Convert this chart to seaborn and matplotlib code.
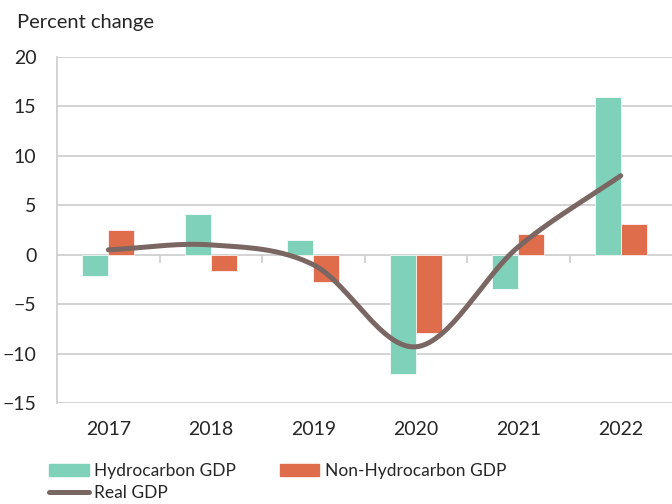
import numpy as np
import pandas as pd
import matplotlib
matplotlib.use("Agg")
import matplotlib.pyplot as plt
from matplotlib.patches import Patch
from matplotlib.lines import Line2D
import seaborn as sns

years = ["2017", "2018", "2019", "2020", "2021", "2022"]
hydro = [-2.1, 4.1, 1.5, -12.0, -3.5, 16.0]
non_hydro = [2.5, -1.6, -2.7, -7.9, 2.1, 3.1]
real_gdp = [0.5, 1.0, -1.0, -9.3, 0.8, 8.0]

green = "#7fd1b9"
orange = "#df6c4a"
brown = "#7a6662"
grid = "#d0d0d0"

sns.set_style("white")
plt.rcParams["font.family"] = ["Lato", "DejaVu Sans"]

df = pd.DataFrame({
    "year": years * 2,
    "series": ["Hydrocarbon GDP"] * 6 + ["Non-Hydrocarbon GDP"] * 6,
    "value": hydro + non_hydro,
})

fig = plt.figure(figsize=(6.72, 5.04), dpi=100)
ax = fig.add_axes([0.085, 0.2, 0.915, 0.687])

sns.barplot(data=df, x="year", y="value", hue="series", order=years,
            palette=[green, orange], saturation=1, width=0.51, ax=ax, legend=False,
            edgecolor="white", linewidth=0.5, zorder=3)


# smooth line through the points (catmull-rom, like excel smoothing)
def smooth(xs, ys, n=30):
    xs = np.asarray(xs, float)
    ys = np.asarray(ys, float)
    px = np.concatenate([[2 * xs[0] - xs[1]], xs, [2 * xs[-1] - xs[-2]]])
    py = np.concatenate([[2 * ys[0] - ys[1]], ys, [2 * ys[-1] - ys[-2]]])
    ox, oy = [], []
    for i in range(1, len(px) - 2):
        t = np.linspace(0, 1, n, endpoint=False)
        for p, out in ((px, ox), (py, oy)):
            p0, p1, p2, p3 = p[i - 1], p[i], p[i + 1], p[i + 2]
            out.extend(0.5 * (2 * p1 + (-p0 + p2) * t
                              + (2 * p0 - 5 * p1 + 4 * p2 - p3) * t ** 2
                              + (-p0 + 3 * p1 - 3 * p2 + p3) * t ** 3))
    ox.append(xs[-1])
    oy.append(ys[-1])
    return np.array(ox), np.array(oy)


sx, sy = smooth(range(len(years)), real_gdp)
ax.plot(sx, sy, color=brown, lw=3.6, solid_capstyle="round", zorder=4)

ax.set_xlim(-0.5, 5.5)
ax.set_ylim(-15, 20)
ax.set_yticks(range(-15, 21, 5))
ax.yaxis.grid(True, color=grid, lw=1.3, zorder=0)
ax.set_axisbelow(True)
for s in ["top", "right", "bottom"]:
    ax.spines[s].set_visible(False)
ax.spines["left"].set_color(grid)
ax.spines["left"].set_linewidth(1.3)
ax.tick_params(axis="y", length=6, width=1.3, color=grid, labelsize=14, pad=9)
ax.tick_params(axis="x", length=0, labelsize=14, pad=13)
ax.set_xlabel("")
ax.set_ylabel("")

# tick marks on the zero line between categories
sec = ax.secondary_xaxis(15 / 35)
sec.set_xticks(np.arange(0.5, 5.5, 1.0))
sec.set_xticklabels([])
sec.tick_params(length=6, width=1.3, color=grid)
sec.spines["bottom"].set_visible(False)

fig.text(0.025, 0.955, "Percent change", fontsize=14.5, va="center")

handles = [Patch(color=green, label="Hydrocarbon GDP"),
           Line2D([], [], color=brown, lw=3.6, solid_capstyle="round", label="Real GDP"),
           Patch(color=orange, label="Non-Hydrocarbon GDP")]
fig.legend(handles=handles, ncol=2, loc="lower left", bbox_to_anchor=(0.055, -0.018),
           frameon=False, fontsize=12.5, handlelength=2.3, handleheight=0.72,
           handletextpad=0.3, columnspacing=2.5, labelspacing=0.35, borderpad=0.2)

fig.savefig("out.png", dpi=100)
